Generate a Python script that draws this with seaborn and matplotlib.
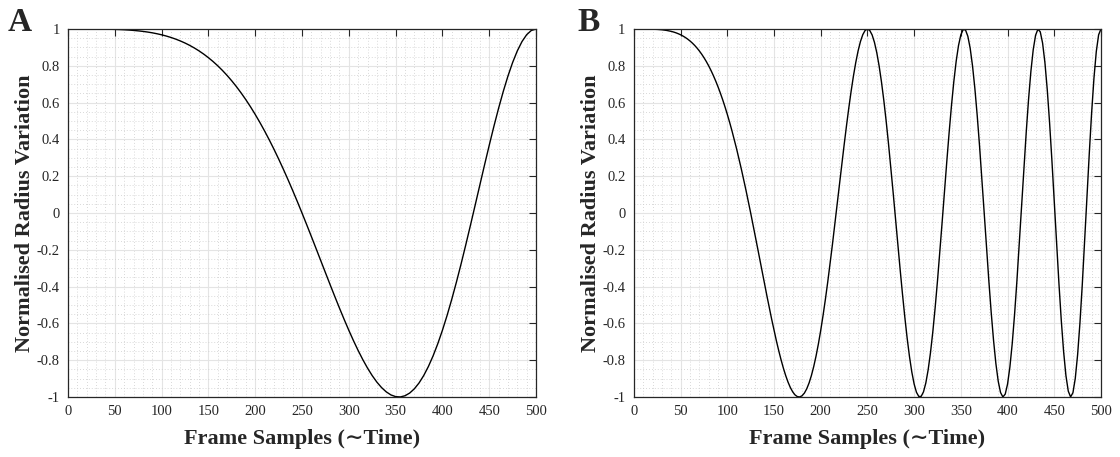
import numpy as np
import pandas as pd
import matplotlib
matplotlib.use('Agg')
import matplotlib.pyplot as plt
import seaborn as sns

# values
samples_a = np.arange(0, 500.1, 5)
radius_a = [1.0, 1.0, 1.0, 1.0, 1.0, 0.9999, 0.9997, 0.9995, 0.9992, 0.9987,
            0.998, 0.9971, 0.9959, 0.9944, 0.9924, 0.99, 0.9871, 0.9836, 0.9794, 0.9744,
            0.9686, 0.9619, 0.9541, 0.9453, 0.9352, 0.9239, 0.9112, 0.8969, 0.8811, 0.8636,
            0.8443, 0.8232, 0.8001, 0.7749, 0.7476, 0.7181, 0.6864, 0.6523, 0.6159, 0.5771,
            0.5358, 0.4922, 0.4461, 0.3977, 0.347, 0.294, 0.2389, 0.1818, 0.1228, 0.0622,
            0.0, -0.0634, -0.1278, -0.1929, -0.2584, -0.3239, -0.3891, -0.4534, -0.5166, -0.5781,
            -0.6374, -0.6941, -0.7476, -0.7974, -0.843, -0.8838, -0.9193, -0.9489, -0.9722, -0.9888,
            -0.998, -0.9997, -0.9933, -0.9787, -0.9556, -0.9239, -0.8835, -0.8344, -0.7769, -0.7111,
            -0.6374, -0.5564, -0.4685, -0.3746, -0.2754, -0.1719, -0.0653, 0.0433, 0.1527, 0.2615,
            0.3681, 0.4713, 0.5693, 0.6608, 0.7443, 0.8182, 0.8811, 0.9318, 0.9692, 0.9922,
            1.0]

samples_b = np.arange(0, 500.1, 2.5)
radius_b = [1.0, 1.0, 1.0, 1.0, 1.0, 0.9999, 0.9997, 0.9995, 0.9992, 0.9987,
            0.998, 0.9971, 0.9959, 0.9944, 0.9924, 0.99, 0.9871, 0.9836, 0.9794, 0.9744,
            0.9686, 0.9619, 0.9541, 0.9453, 0.9352, 0.9239, 0.9112, 0.8969, 0.8811, 0.8636,
            0.8443, 0.8232, 0.8001, 0.7749, 0.7476, 0.7181, 0.6864, 0.6523, 0.6159, 0.5771,
            0.5358, 0.4922, 0.4461, 0.3977, 0.347, 0.294, 0.2389, 0.1818, 0.1228, 0.0622,
            0.0, -0.0634, -0.1278, -0.1929, -0.2584, -0.3239, -0.3891, -0.4534, -0.5166, -0.5781,
            -0.6374, -0.6941, -0.7476, -0.7974, -0.843, -0.8838, -0.9193, -0.9489, -0.9722, -0.9888,
            -0.998, -0.9997, -0.9933, -0.9787, -0.9556, -0.9239, -0.8835, -0.8344, -0.7769, -0.7111,
            -0.6374, -0.5564, -0.4685, -0.3746, -0.2754, -0.1719, -0.0653, 0.0433, 0.1527, 0.2615,
            0.3681, 0.4713, 0.5693, 0.6608, 0.7443, 0.8182, 0.8811, 0.9318, 0.9692, 0.9922,
            1.0, 0.992, 0.968, 0.9277, 0.8714, 0.7997, 0.7133, 0.6134, 0.5015, 0.3792,
            0.2487, 0.1122, -0.0276, -0.1682, -0.3066, -0.4399, -0.5652, -0.6795, -0.78, -0.8642,
            -0.9298, -0.9747, -0.9973, -0.9967, -0.9722, -0.9239, -0.8523, -0.7588, -0.6451, -0.5139,
            -0.3681, -0.2114, -0.0477, 0.1185, 0.2826, 0.4399, 0.5858, 0.7155, 0.825, 0.9104,
            0.9686, 0.9972, 0.9947, 0.9605, 0.895, 0.7997, 0.6772, 0.531, 0.3658, 0.1868,
            0.0, -0.188, -0.3705, -0.5406, -0.6918, -0.8182, -0.9142, -0.9758, -0.9997, -0.9845,
            -0.9298, -0.8372, -0.7098, -0.5522, -0.3705, -0.1719, 0.0352, 0.242, 0.4394, 0.6184,
            0.7705, 0.8884, 0.966, 0.999, 0.985, 0.9239, 0.8178, 0.6712, 0.4905, 0.2844,
            0.0628, -0.1633, -0.3821, -0.5822, -0.7526, -0.8838, -0.968, -0.9998, -0.9767, -0.8991,
            -0.7705, -0.5974, -0.3891, -0.1571, 0.0854, 0.3239, 0.5443, 0.7328, 0.8775, 0.9687,
            1.0]

panel_letters = ['A', 'B']
xticks = [0, 50, 100, 150, 200, 250, 300, 350, 400, 450, 500]
yticks = [-1, -0.8, -0.6, -0.4, -0.2, 0, 0.2, 0.4, 0.6, 0.8, 1]
ytick_labels = ['-1', '-0.8', '-0.6', '-0.4', '-0.2', '0', '0.2', '0.4', '0.6', '0.8', '1']

sns.set_style('white')
plt.rcParams['font.family'] = ['Liberation Serif', 'DejaVu Serif']

fig = plt.figure(figsize=(11.2, 4.57), dpi=100)
ax_a = fig.add_axes([0.0607, 0.1313, 0.4179, 0.8052])
ax_b = fig.add_axes([0.566, 0.1313, 0.417, 0.8052])

panels = [(ax_a, samples_a, radius_a), (ax_b, samples_b, radius_b)]
letter_x = [0.0071, 0.516]
for (ax, xs, ys), letter, lx in zip(panels, panel_letters, letter_x):
    df = pd.DataFrame({'frame': xs, 'radius': ys})
    sns.lineplot(data=df, x='frame', y='radius', ax=ax, color='black', linewidth=1.0)
    ax.set_xlim(0, 500)
    ax.set_ylim(-1, 1)
    ax.set_xticks(xticks)
    ax.set_yticks(yticks)
    ax.set_yticklabels(ytick_labels)
    ax.xaxis.set_minor_locator(matplotlib.ticker.MultipleLocator(10))
    ax.yaxis.set_minor_locator(matplotlib.ticker.MultipleLocator(0.05))
    ax.grid(which='major', color='#e4e4e4', linewidth=0.8, linestyle='-')
    ax.grid(which='minor', color='#cccccc', linewidth=0.6, linestyle=(0, (1, 2.5)))
    ax.set_axisbelow(True)
    ax.tick_params(which='major', direction='in', length=5, width=0.8, top=True, right=True,
                   labelsize=10.5, colors='#262626', pad=6)
    ax.tick_params(which='minor', length=0, top=True, right=True)
    for sp in ax.spines.values():
        sp.set_color('#262626')
        sp.set_linewidth(0.9)
        sp.set_visible(True)
    ax.set_xlabel('Frame Samples (\u223cTime)', fontsize=16, fontweight='bold', labelpad=8)
    ax.set_ylabel('Normalised Radius Variation', fontsize=16, fontweight='bold', labelpad=1)
    fig.text(lx, 0.932, letter, fontsize=24, fontweight='bold', ha='left', va='baseline')

fig.savefig('out.png', dpi=100)
